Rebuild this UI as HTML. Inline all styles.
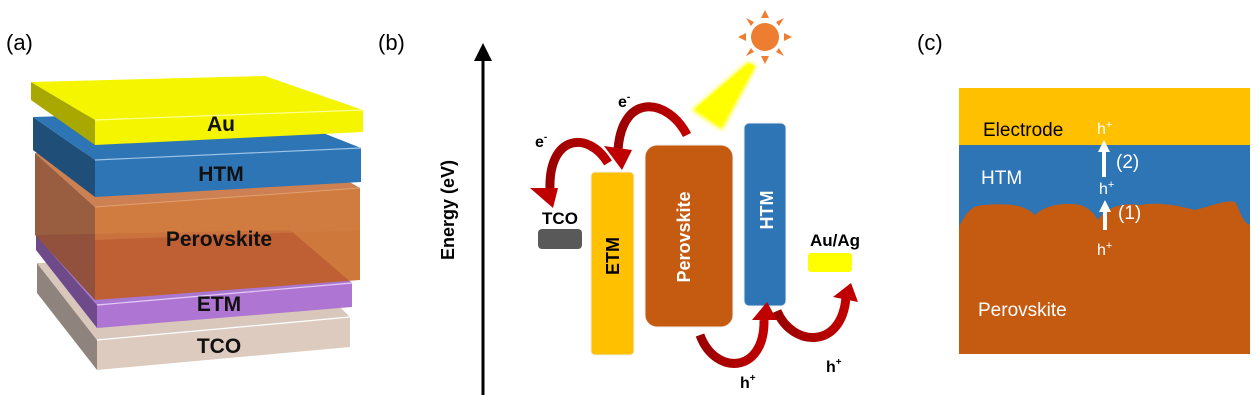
<!DOCTYPE html>
<html><head><meta charset="utf-8"><style>
html,body{margin:0;padding:0;background:#fff;}
svg{display:block;font-family:"Liberation Sans","DejaVu Sans",sans-serif;}
</style></head><body>
<svg width="1256" height="407" viewBox="0 0 1256 407" xmlns="http://www.w3.org/2000/svg">
<defs>
<marker id="ah" viewBox="0 0 10 10" refX="5" refY="5" markerWidth="6" markerHeight="6" orient="auto-start-reverse"><path d="M0,0 L10,5 L0,10 z" fill="#000"/></marker>
<linearGradient id="rg" x1="0" y1="0" x2="1" y2="0"><stop offset="0" stop-color="#9A0000"/><stop offset="1" stop-color="#C00000"/></linearGradient>
<filter id="glow" x="-30%" y="-30%" width="160%" height="160%"><feGaussianBlur stdDeviation="2"/></filter>
</defs>

<!-- Panel a -->
<text x="6" y="50" font-size="22" fill="#000">(a)</text>
<polygon points="37,263 97,340 97,370 37,293" fill="#8E847D"/>
<polygon points="37,263 290,258 350,317 97,340" fill="#D9C7BC"/>
<polygon points="97,340 350,317 350,347 97,370" fill="#DDCBBF"/>
<line x1="97" y1="340" x2="350" y2="317" stroke="#fff" stroke-width="1.2"/>
<polygon points="36,235 97,305 97,328 36,250" fill="#6E4A8A"/>
<polygon points="36,235 290,230 352,283 97,305" fill="#A877D0"/>
<polygon points="97,305 352,283 352,307 97,328" fill="#AE76D2"/>
<line x1="97" y1="305" x2="352" y2="283" stroke="#E6CCF5" stroke-width="1.2"/>
<polygon points="35,153 95,207 95,300 35,235" fill="#8E4D2B" opacity="0.9"/>
<polygon points="35,153 290,148 360,188 95,207" fill="#C8733F" opacity="0.9"/>
<polygon points="95,207 360,188 360,280 95,300" fill="#C55A11" opacity="0.82"/>
<polygon points="95,207 360,188 360,230 95,240" fill="#D07E45" opacity="0.6"/>
<line x1="95" y1="207" x2="360" y2="188" stroke="#E0A070" stroke-width="1"/>
<polygon points="33,117 95,160 95,197 33,150" fill="#1F4E79"/>
<polygon points="33,117 265,110 361,148 95,160" fill="#2E75B6"/>
<polygon points="95,160 361,148 361,182 95,197" fill="#2E75B6"/>
<line x1="95" y1="160" x2="361" y2="148" stroke="#9DC3E6" stroke-width="1.2"/>
<polygon points="31,82 95,120 95,145 31,100" fill="#A8A800"/>
<polygon points="31,82 265,76 363,110 95,120" fill="#F5F500"/>
<polygon points="95,120 363,110 363,132 95,145" fill="#F5F500"/>
<line x1="95" y1="120" x2="363" y2="110" stroke="#FFFF99" stroke-width="1.2"/>
<g font-weight="bold" font-size="21" fill="#111" text-anchor="middle">
<text x="221" y="131">Au</text>
<text x="221" y="181">HTM</text>
<text x="219" y="246">Perovskite</text>
<text x="219" y="311">ETM</text>
<text x="219" y="353">TCO</text>
</g>

<!-- Panel b -->
<text x="378" y="50" font-size="22" fill="#000">(b)</text>
<line x1="483" y1="395" x2="483" y2="52" stroke="#000" stroke-width="3" marker-end="url(#ah)"/>
<text transform="translate(454,210) rotate(-90)" font-size="18" font-weight="bold" text-anchor="middle">Energy (eV)</text>

<circle cx="765" cy="37" r="14" fill="#ED7D31"/>
<g fill="#ED7D31">
<polygon points="765,10 761,18 769,18"/>
<polygon points="765,64 761,56 769,56"/>
<polygon points="738,37 746,33 746,41"/>
<polygon points="792,37 784,33 784,41"/>
<polygon points="746,18 751,26 754,22"/>
<polygon points="784,18 779,26 776,22"/>
<polygon points="746,56 751,48 754,52"/>
<polygon points="784,56 779,48 776,52"/>
</g>
<polygon points="748,62 756,66 722,130 692,110" fill="#FFFF00" filter="url(#glow)"/>
<polygon points="749,63 755,66 721,127 695,109" fill="#FFFF00"/>

<rect x="538" y="229" width="44" height="20" rx="4" fill="#595959"/>
<rect x="808" y="253" width="44" height="19" rx="3" fill="#FFFF00"/>
<rect x="591" y="172" width="43" height="183" rx="4" fill="#FFC000" stroke="#eee"/>
<rect x="645" y="145" width="88" height="182" rx="12" fill="#C55A11" stroke="#eee"/>
<rect x="744" y="123" width="42" height="183" rx="5" fill="#2E75B6" stroke="#eee"/>
<g font-weight="bold" font-size="17" text-anchor="middle">
<text x="560" y="224">TCO</text>
<text x="835" y="246">Au/Ag</text>
<text transform="translate(619,256) rotate(-90)" fill="#000" font-size="18">ETM</text>
<text transform="translate(690,237) rotate(-90)" fill="#fff" font-size="18">Perovskite</text>
<text transform="translate(773,210) rotate(-90)" fill="#fff" font-size="18">HTM</text>
</g>

<g fill="none" stroke="url(#rg)" stroke-width="9" stroke-linecap="butt">
<path d="M687,135 C668,98 622,92 618,150"/>
<path d="M608,163 C588,130 548,135 550,190"/>
<path d="M700,335 C715,376 765,374 764,320"/>
<path d="M777,311 C792,347 842,350 846,297"/>
</g>
<g fill="#C00000">
<polygon points="604,146 632,150 622,170"/>
<polygon points="530,188 558,188 553,208"/>
<polygon points="752,320 777,320 767,302"/>
<polygon points="833,297 858,302 851,283"/>
</g>
<g font-weight="bold" font-size="16" fill="#000">
<text x="618" y="107">e<tspan font-size="10" dy="-7">-</tspan></text>
<text x="535" y="147">e<tspan font-size="10" dy="-7">-</tspan></text>
<text x="740" y="388">h<tspan font-size="10" dy="-7">+</tspan></text>
<text x="826" y="372">h<tspan font-size="10" dy="-7">+</tspan></text>
</g>

<!-- Panel c -->
<text x="917" y="50" font-size="22" fill="#000">(c)</text>
<rect x="959" y="88" width="291" height="57" fill="#FFC000"/>
<rect x="959" y="145" width="291" height="100" fill="#2E75B6"/>
<path d="M959,227 C965,215 970,205 985,205 C1010,203 1025,205 1035,215 C1045,205 1065,202 1080,205 C1090,208 1095,215 1098,220 C1108,205 1125,203 1140,205 C1160,202 1175,205 1195,210 C1215,205 1225,200 1235,202 C1240,210 1242,222 1250,225 L1250,354 L959,354 Z" fill="#C55A11"/>
<g font-size="19" fill="#fff">
<text x="983" y="136" fill="#000">Electrode</text>
<text x="981" y="184">HTM</text>
<text x="978" y="316">Perovskite</text>
<text x="1116" y="168">(2)</text>
<text x="1118" y="219">(1)</text>
</g>
<g font-size="16" fill="#fff">
<text x="1097" y="134">h<tspan font-size="11" dy="-6">+</tspan></text>
<text x="1099" y="194">h<tspan font-size="11" dy="-6">+</tspan></text>
<text x="1097" y="255">h<tspan font-size="11" dy="-6">+</tspan></text>
</g>
<g fill="#fff">
<rect x="1102" y="150" width="4" height="27"/>
<polygon points="1098,152 1110,152 1104,140"/>
<rect x="1103" y="210" width="4" height="20"/>
<polygon points="1099,212 1111,212 1105,200"/>
</g>
</svg>
</body></html>
